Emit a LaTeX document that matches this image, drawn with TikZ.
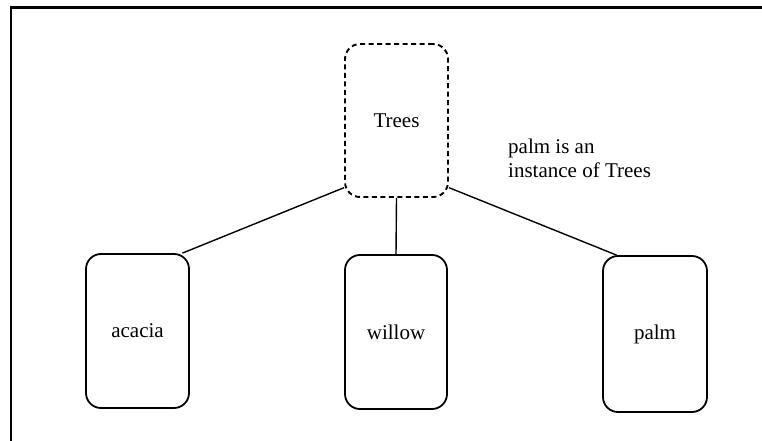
\documentclass[tikz,border=0pt]{standalone}
\usepackage{fontspec}
\setmainfont{Liberation Serif}
\newfontfamily\labelserif{Liberation Serif}
\begin{document}
\begin{tikzpicture}[x=1pt,y=-1pt,
  every node/.style={font=\labelserif\fontsize{21}{24}\selectfont},
  classbox/.style={draw, line width=1.8pt, rounded corners=15pt, inner sep=0pt,
                   minimum width=103pt, minimum height=154pt},
  conceptbox/.style={classbox, dashed, dash pattern=on 5pt off 3.5pt, line width=1.9pt},
  link/.style={line width=1.4pt}]
  \useasboundingbox (0,0) rectangle (762,441);
  % open frame: top and left edges only
  \draw[line width=2.8pt] (762,7.5) -- (11,7.5) -- (11,441);
  % concept and its members
  \node[conceptbox, minimum height=153pt] (trees) at (396.5,120.5) {Trees};
  \node[classbox] (acacia) at (137.5,331) {acacia};
  \node[classbox, minimum width=102pt] (willow) at (396,332) {willow};
  \node[classbox, minimum width=104pt, minimum height=156pt] (palm) at (655,334) {palm};
  % connectors
  \draw[link] (acacia.60) -- (trees.232);
  \draw[link] (trees.south) -- (willow.north);
  \draw[link] (trees.308) -- (palm.116);
  % annotation
  \node[anchor=base west, align=left, inner sep=0pt] (note) at (508,177)
    {palm is an\\instance of Trees};
\end{tikzpicture}
\end{document}
